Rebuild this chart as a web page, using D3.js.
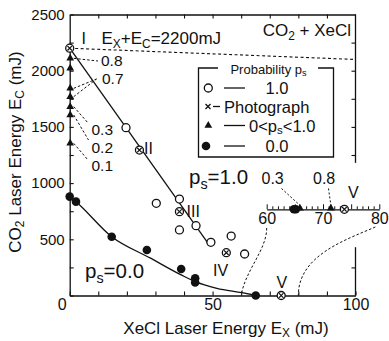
<!DOCTYPE html>
<html><head><meta charset="utf-8">
<script src="https://cdn.jsdelivr.net/npm/d3@7"></script>
<style>
html,body{margin:0;padding:0;background:#fff;}
svg{display:block;font-family:"Liberation Sans",Arial,Helvetica,sans-serif;}
</style></head><body>
<svg id="c" width="389" height="341"></svg>
<script>
// ---------- data ----------
const xTicks = [0,10,20,30,40,50,60,70,80,90,100];
const xTickLabels = [0,50,100];
const yTicks = [0,250,500,750,1000,1250,1500,1750,2000,2250,2500];
const yTickLabels = [500,1000,1500,2000,2500];
const topTicks = [10,20,30,40,50,60,70,80,90];
const rightTicks = [250,1250,1500,1750,2000,2250];
const rightGap = [430,1180];

// p_s = 1.0 (open circles)
const openX = [19.7,30.3,38.4,38.4,44.2,49.4,56.5,61.2];
const openY = [1493,820,858,583,621,473,529,369];
// photographs (crossed circles)
const photoNames = ["I","II","III","IV","V"];
const photoX = [0,24.4,38.4,54.8,74];
const photoY = [2200,1294,746,381,0];
// p_s = 0.0 (filled circles)
const filledX = [0,2.2,14.7,27,39,43.9,43.9,65.1];
const filledY = [880,835,523,405,236,153,116,0];
// 0 < p_s < 1 (triangles on E_X = 0)
const triX = [0,0,0,0,0,0,0];
const triY = [2110,2021,1843,1769,1680,1606,1354];
const probText = ["0.8","0.7","0.3","0.2","0.1"];
const probTargets = [[2110],[1843,1769],[1680],[1606],[1354]];
// boundary curves
const bound1X = [0,48.8];
const bound1Y = [2200,450];
const bound0X = [0,2.2,14.7,28.3,39,43.9,51.5,60.3,65.3];
const bound0Y = [880,835,523,332,183,123,64,25,0];
const sumX = [0,100];
const sumY = [2200,2100];
// inset (E_C = 0 axis, 60-80 mJ)
const insetDomain = [60,80];
const insetTicks = d3.range(60,81,1);
const insetFilledX = [65.0];
const insetTriX = [65.9,71.4];
const insetPhotoX = [73.8];
const insetProbText = ["0.3","0.8"];
const insetProbX = [65.9,71.4];

// ---------- drawing ----------
const svg = d3.select("#c");
const x = d3.scaleLinear([0,100],[69.7,355.5]);
const y = d3.scaleLinear([0,2500],[295.5,14.5]);
const xi = d3.scaleLinear(insetDomain,[266.7,379.3]);
const insetY = 209.3;

function rich(g, parts, size, shift){
  const sh = (shift===undefined ? 0.22 : shift)*size;
  const t = g.append("text").attr("font-size", size).attr("fill","#111");
  let sub = false;
  parts.forEach(([s,isSub])=>{
    const ts = t.append("tspan").text(s);
    if(isSub){ ts.attr("font-size", size*0.7); if(!sub) ts.attr("dy", sh); }
    else if(sub){ ts.attr("dy", -sh); }
    sub = isSub;
  });
  return t;
}

// axes
const gx = svg.append("g").attr("transform",`translate(0,${y(0)})`)
  .call(d3.axisBottom(x).tickValues(xTicks).tickSize(-4).tickSizeOuter(0).tickPadding(3)
    .tickFormat(d => xTickLabels.includes(d) ? d : ""));
gx.selectAll(".tick text").attr("font-size",16).attr("font-family","inherit").attr("fill","#111")
  .filter(d=>d===0).attr("x",-8);
const gy = svg.append("g").attr("transform",`translate(${x(0)},0)`)
  .call(d3.axisLeft(y).tickValues(yTicks).tickSize(-4).tickSizeOuter(0).tickPadding(5)
    .tickFormat(d => yTickLabels.includes(d) ? d : ""));
gy.selectAll(".tick text").attr("font-size",15).attr("font-family","inherit").attr("fill","#111");
const gt = svg.append("g").attr("transform",`translate(0,${y(2500)})`)
  .call(d3.axisTop(x).tickValues(topTicks).tickSize(-4).tickSizeOuter(0).tickFormat(""));
const gr = svg.append("g").attr("transform",`translate(${x(100)},0)`)
  .call(d3.axisRight(y).tickValues(rightTicks).tickSize(-4).tickSizeOuter(0).tickFormat(""));
gr.select(".domain").remove();
gr.append("line").attr("x1",0).attr("x2",0).attr("y1",y(2500)).attr("y2",y(rightGap[1])).attr("stroke","#111").attr("stroke-width",1.3);
gr.append("line").attr("x1",0).attr("x2",0).attr("y1",y(rightGap[0])).attr("y2",y(0)).attr("stroke","#111").attr("stroke-width",1.3);
svg.selectAll(".domain").attr("stroke","#111").attr("stroke-width",1.3);
svg.selectAll(".tick line").attr("stroke","#111").attr("stroke-width",1.1);

// axis titles
rich(svg,[["XeCl Laser Energy E",false],["X",true],[" (mJ)",false]],17,0.2)
  .attr("x",226).attr("y",334).attr("text-anchor","middle");
rich(svg,[["CO",false],["2",true],[" Laser Energy E",false],["C",true],[" (mJ)",false]],17,0.2)
  .attr("text-anchor","middle").attr("transform","translate(20.5,152) rotate(-90)");

// E_X + E_C = 2200 dashed line
const line = d3.line().x(d=>x(d[0])).y(d=>y(d[1]));
svg.append("path").datum(d3.zip(sumX,sumY)).attr("d",line)
  .attr("fill","none").attr("stroke","#111").attr("stroke-width",1.1).attr("stroke-dasharray","3,2.5");
rich(svg,[["E",false],["X",true],["+E",false],["C",true],["=2200mJ",false]],17).attr("x",101.5).attr("y",44);
rich(svg,[["CO",false],["2",true],[" + XeCl",false]],17).attr("x",351).attr("y",36).attr("text-anchor","end");

// boundary lines
svg.append("path").datum(d3.zip(bound1X,bound1Y)).attr("d",line)
  .attr("fill","none").attr("stroke","#111").attr("stroke-width",1.3);
svg.append("path").datum(d3.zip(bound0X,bound0Y)).attr("d",line.curve(d3.curveMonotoneX))
  .attr("fill","none").attr("stroke","#111").attr("stroke-width",1.3);
line.curve(d3.curveLinear);

// probability leader lines + labels on the E_C axis
const probPos = [[101,65.5,98,61],[102,83.5,96.5,79],[91.5,134.5,88.5,123.5],[91.5,152.5,88.5,140],[91.5,171,88,160]];
probText.forEach((t,i)=>{
  const p = probPos[i];
  probTargets[i].forEach(v=>{
    svg.append("line").attr("x1",x(0)+4).attr("y1",y(v)).attr("x2",p[2]).attr("y2",p[3])
      .attr("stroke","#111").attr("stroke-width",1).attr("stroke-dasharray","2.5,2");
  });
  svg.append("text").attr("x",p[0]).attr("y",p[1]).attr("font-size",15.5).attr("fill","#111").text(t);
});

// markers
const tri = d3.symbol().type(d3.symbolTriangle).size(26);
function openCircle(g,cx,cy){ g.append("circle").attr("cx",cx).attr("cy",cy).attr("r",4).attr("fill","#fff").attr("stroke","#111").attr("stroke-width",1.3); }
function crossCircle(g,cx,cy){
  openCircle(g,cx,cy);
  const s=2.3;
  g.append("path").attr("d",`M${cx-s},${cy-s}L${cx+s},${cy+s}M${cx-s},${cy+s}L${cx+s},${cy-s}`).attr("stroke","#111").attr("stroke-width",1.2);
}
function filled(g,cx,cy,r){ g.append("circle").attr("cx",cx).attr("cy",cy).attr("r",r||4.3).attr("fill","#111"); }
function triangle(g,cx,cy){ g.append("path").attr("d",tri()).attr("transform",`translate(${cx},${cy})`).attr("fill","#111"); }

const gm = svg.append("g");
triX.forEach((v,i)=>triangle(gm,x(v)+0.5,y(triY[i])));
filledX.forEach((v,i)=>filled(gm,x(v),y(filledY[i])));
openX.forEach((v,i)=>openCircle(gm,x(v),y(openY[i])));
photoX.forEach((v,i)=>crossCircle(gm,x(v),y(photoY[i])));

// roman numeral labels
const photoLabelPos = [[81.5,43.5],[144,154],[186.5,217],[213,275.5],[276.5,287.5]];
photoNames.forEach((n,i)=>svg.append("text").attr("x",photoLabelPos[i][0]).attr("y",photoLabelPos[i][1])
  .attr("font-size",16).attr("fill","#111").text(n));

// p_s region labels
rich(svg,[["p",false],["s",true],["=1.0",false]],20.5,0.25).attr("x",189).attr("y",184);
rich(svg,[["p",false],["s",true],["=0.0",false]],20.5,0.25).attr("x",85).attr("y",277.5);

// inset axis
const gi = svg.append("g").attr("transform",`translate(0,${insetY})`)
  .call(d3.axisBottom(xi).tickValues(insetTicks).tickSize(-3).tickSizeOuter(0).tickPadding(3)
    .tickFormat(d => d%10===0 ? d : ""));
gi.selectAll(".tick line").filter(d=>d%5===0).attr("y2",-5);
gi.selectAll(".tick line").attr("stroke","#111");
gi.select(".domain").attr("stroke","#111").attr("stroke-width",1.3);
gi.selectAll(".tick text").attr("font-size",16).attr("font-family","inherit").attr("fill","#111");
insetFilledX.forEach(v=>{ filled(svg,xi(v)-1,insetY,4.3); filled(svg,xi(v)+1,insetY,4.3); });
insetTriX.forEach(v=>triangle(svg,xi(v),insetY-1));
insetPhotoX.forEach(v=>crossCircle(svg,xi(v),insetY));
const insetLabelPos = [[261.5,184,281.5,188.5],[313,184,328.5,188.5]];
insetProbText.forEach((t,i)=>{
  const p = insetLabelPos[i];
  svg.append("text").attr("x",p[0]).attr("y",p[1]).attr("font-size",16).attr("fill","#111").text(t);
  svg.append("line").attr("x1",p[2]).attr("y1",p[3]).attr("x2",xi(insetProbX[i])).attr("y2",insetY-4)
    .attr("stroke","#111").attr("stroke-width",1).attr("stroke-dasharray","2,2");
});
svg.append("text").attr("x",348).attr("y",197.5).attr("font-size",16).attr("fill","#111").text("V");

// connectors inset -> main axis
const cA = [xi(insetDomain[0]), 228], cB = [x(insetDomain[0]), y(0)];
svg.append("path").attr("d",`M${cA[0]},${cA[1]}C${cA[0]},${cA[1]+22} ${cB[0]+4},${cB[1]-25} ${cB[0]},${cB[1]}`)
  .attr("fill","none").attr("stroke","#111").attr("stroke-width",1).attr("stroke-dasharray","2.5,2");
const cC = [xi(insetDomain[1])-4, 227], cD = [x(insetDomain[1]), y(0)];
svg.append("path").attr("d",`M${cC[0]},${cC[1]}C${cC[0]-30},${cC[1]+13} ${cD[0]},${cD[1]-40} ${cD[0]},${cD[1]}`)
  .attr("fill","none").attr("stroke","#111").attr("stroke-width",1).attr("stroke-dasharray","2.5,2");

// legend
const lg = svg.append("g");
const L = {x0:198.5,x1:333.5,y0:68,y1:157};
lg.append("path").attr("d",`M218,${L.y0}H${L.x0}V${L.y1}H${L.x1}V${L.y0}H318`)
  .attr("fill","none").attr("stroke","#111").attr("stroke-width",1.3);
rich(lg,[["Probability p",false],["s",true]],13).attr("x",268.5).attr("y",73.5).attr("text-anchor","middle");
const rowY = [88,106.5,125.5,146];
openCircle(lg,208.3,rowY[0]);
lg.append("line").attr("x1",224).attr("x2",245).attr("y1",rowY[0]).attr("y2",rowY[0]).attr("stroke","#111").attr("stroke-width",1.3);
lg.append("text").attr("x",265.5).attr("y",rowY[0]+6).attr("font-size",16.5).attr("fill","#111").text("1.0");
lg.append("path").attr("d",`M205.5,${rowY[1]-2.5}L210.5,${rowY[1]+2.5}M205.5,${rowY[1]+2.5}L210.5,${rowY[1]-2.5}`).attr("stroke","#111").attr("stroke-width",1.3);
lg.append("line").attr("x1",213).attr("x2",220).attr("y1",rowY[1]).attr("y2",rowY[1]).attr("stroke","#111").attr("stroke-width",1.3);
lg.append("text").attr("x",224).attr("y",rowY[1]+6).attr("font-size",16.5).attr("fill","#111").text("Photograph");
triangle(lg,208.3,rowY[2]);
lg.append("line").attr("x1",224).attr("x2",245).attr("y1",rowY[2]).attr("y2",rowY[2]).attr("stroke","#111").attr("stroke-width",1.3);
rich(lg,[["0<p",false],["s",true],["<1.0",false]],16.5,0.18).attr("x",249).attr("y",rowY[2]+6);
filled(lg,206,rowY[3],4.3);
lg.append("line").attr("x1",224).attr("x2",245).attr("y1",rowY[3]).attr("y2",rowY[3]).attr("stroke","#111").attr("stroke-width",1.3);
lg.append("text").attr("x",265.5).attr("y",rowY[3]+6).attr("font-size",16.5).attr("fill","#111").text("0.0");
</script>
</body></html>
